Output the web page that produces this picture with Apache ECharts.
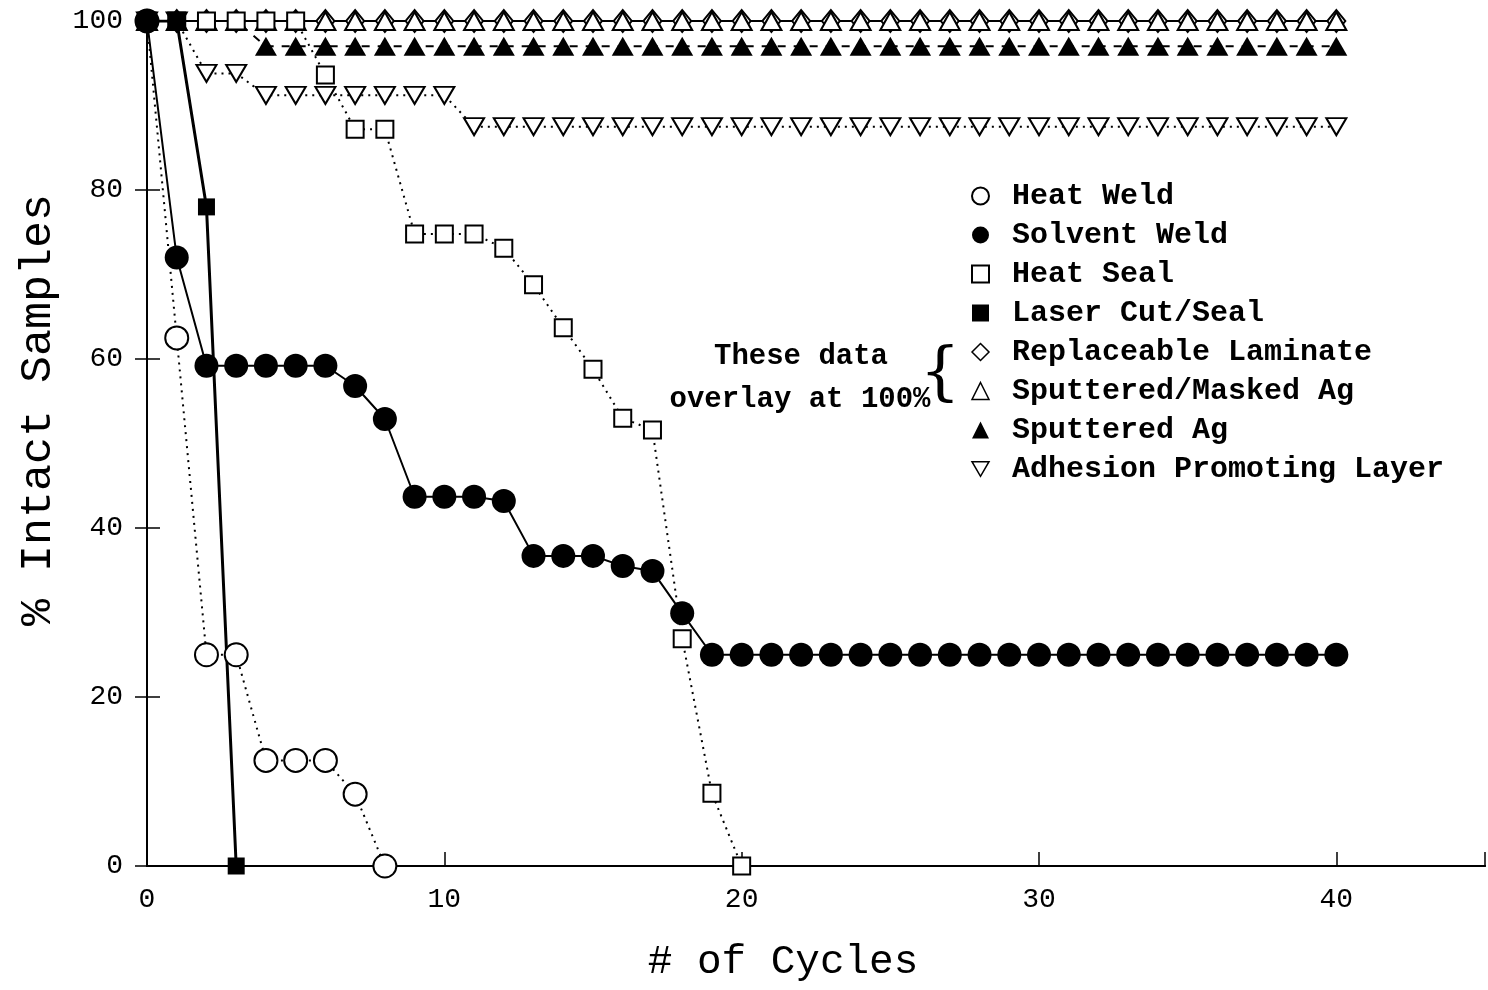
<!DOCTYPE html>
<html>
<head>
<meta charset="utf-8">
<script src="https://cdn.jsdelivr.net/npm/echarts@6/dist/echarts.min.js"></script>
<style>html,body{margin:0;padding:0;background:#fff}#c{width:1488px;height:990px}</style>
</head>
<body>
<div id="c"></div>
<script>
// x values (# of cycles)
const cycles = [0,1,2,3,4,5,6,7,8,9,10,11,12,13,14,15,16,17,18,19,20,21,22,23,24,25,26,27,28,29,30,31,32,33,34,35,36,37,38,39,40];
const xTicks = [0,10,20,30,40];
const yTicks = [0,20,40,60,80,100];

const heatWeld = [100,62.5,25,25,12.5,12.5,12.5,8.5,0];
const solventWeld = [100,72,59.2,59.2,59.2,59.2,59.2,56.8,52.9,43.7,43.7,43.7,43.2,36.7,36.7,36.7,35.5,34.9,29.9,25,25,25,25,25,25,25,25,25,25,25,25,25,25,25,25,25,25,25,25,25,25];
const heatSeal = [100,100,100,100,100,100,93.6,87.2,87.2,74.8,74.8,74.8,73.1,68.8,63.7,58.8,53.0,51.6,26.9,8.6,0];
const laserCut = [100,100,78,0];
const replaceable = [100,100,100,100,100,100,100,100,100,100,100,100,100,100,100,100,100,100,100,100,100,100,100,100,100,100,100,100,100,100,100,100,100,100,100,100,100,100,100,100,100];
const sputteredMasked = [100,100,100,100,100,100,100,100,100,100,100,100,100,100,100,100,100,100,100,100,100,100,100,100,100,100,100,100,100,100,100,100,100,100,100,100,100,100,100,100,100];
const sputteredAg = [100,100,100,100,97,97,97,97,97,97,97,97,97,97,97,97,97,97,97,97,97,97,97,97,97,97,97,97,97,97,97,97,97,97,97,97,97,97,97,97,97];
const adhesion = [100,100,93.8,93.8,91.2,91.2,91.2,91.2,91.2,91.2,91.2,87.5,87.5,87.5,87.5,87.5,87.5,87.5,87.5,87.5,87.5,87.5,87.5,87.5,87.5,87.5,87.5,87.5,87.5,87.5,87.5,87.5,87.5,87.5,87.5,87.5,87.5,87.5,87.5,87.5,87.5];

const FONT = 'Liberation Mono';
const downTri = 'path://M0,0L20,0L10,17.3Z';
const pts = arr => arr.map((v,i)=>[cycles[i], v]);
const openStyle = {color:'#fff', borderColor:'#000', borderWidth:2};
const fillStyle = {color:'#000', borderColor:'#000', borderWidth:0};

const series = [
  {name:'Replaceable Laminate', data:pts(replaceable), symbol:'diamond', symbolSize:[18,22], itemStyle:openStyle, lineStyle:{color:'#000',width:2,type:'solid'}},
  {name:'Sputtered/Masked Ag', data:pts(sputteredMasked), symbol:'triangle', symbolSize:[20,18], itemStyle:openStyle, lineStyle:{color:'#000',width:2,type:'solid'}},
  {name:'Sputtered Ag', data:pts(sputteredAg), symbol:'triangle', symbolSize:[22,19], itemStyle:fillStyle, lineStyle:{color:'#000',width:2,type:[8,8]}},
  {name:'Adhesion Promoting Layer', data:pts(adhesion), symbol:downTri, symbolSize:[20,17], itemStyle:openStyle, lineStyle:{color:'#000',width:2,type:[2,5]}},
  {name:'Heat Seal', data:pts(heatSeal), symbol:'rect', symbolSize:17, itemStyle:openStyle, lineStyle:{color:'#000',width:2,type:[2,5]}},
  {name:'Heat Weld', data:pts(heatWeld), symbol:'circle', symbolSize:23, itemStyle:openStyle, lineStyle:{color:'#000',width:2,type:[2,5]}},
  {name:'Solvent Weld', data:pts(solventWeld), symbol:'circle', symbolSize:24, itemStyle:fillStyle, lineStyle:{color:'#000',width:2,type:'solid'}},
  {name:'Laser Cut/Seal', data:pts(laserCut), symbol:'rect', symbolSize:17, itemStyle:fillStyle, lineStyle:{color:'#000',width:3,type:'solid'}}
].map(s=>Object.assign({type:'line', showAllSymbol:true, animation:false, xAxisIndex:0, yAxisIndex:0}, s));

const legendItems = [
  {name:'Heat Weld', icon:'circle', itemStyle:openStyle},
  {name:'Solvent Weld', icon:'circle', itemStyle:fillStyle},
  {name:'Heat Seal', icon:'rect', itemStyle:openStyle},
  {name:'Laser Cut/Seal', icon:'rect', itemStyle:fillStyle},
  {name:'Replaceable Laminate', icon:'diamond', itemStyle:Object.assign({},openStyle,{borderWidth:1.5})},
  {name:'Sputtered/Masked Ag', icon:'triangle', itemStyle:Object.assign({},openStyle,{borderWidth:1.5})},
  {name:'Sputtered Ag', icon:'triangle', itemStyle:fillStyle},
  {name:'Adhesion Promoting Layer', icon:downTri, itemStyle:Object.assign({},openStyle,{borderWidth:1.5})}
];

const chart = echarts.init(document.getElementById('c'), null, {renderer:'canvas'});
chart.setOption({
  backgroundColor:'#fff',
  animation:false,
  grid:{left:147, right:3, top:21, bottom:124, containLabel:false},
  xAxis:[
    {type:'value', min:0, max:45, interval:10, position:'bottom',
     axisLine:{show:true, lineStyle:{color:'#000', width:2}},
     axisTick:{show:true, inside:true, length:14, lineStyle:{color:'#000', width:1.5}},
     axisLabel:{fontFamily:FONT, fontSize:28, color:'#000', margin:20, formatter:v=>xTicks.includes(v)?String(v):''},
     splitLine:{show:false}},
    {type:'value', min:0, max:45, interval:10, position:'top',
     axisLine:{show:true, lineStyle:{color:'#000', width:2}},
     axisTick:{show:false}, axisLabel:{show:false}, splitLine:{show:false}}
  ],
  yAxis:[
    {type:'value', min:0, max:100, interval:20, position:'left',
     axisLine:{show:true, lineStyle:{color:'#000', width:2}},
     axisTick:{show:true, inside:true, length:13, lineStyle:{color:'#000', width:1.5}},
     axisLabel:{fontFamily:FONT, fontSize:28, color:'#000', margin:24, formatter:v=>yTicks.includes(v)?String(v):''},
     splitLine:{show:false}},
    {type:'value', min:0, max:100, interval:20, position:'right',
     axisLine:{show:true, lineStyle:{color:'#000', width:2}},
     axisTick:{show:true, inside:true, length:12, lineStyle:{color:'#000', width:1.5}},
     axisLabel:{show:false}, splitLine:{show:false}}
  ],
  legend:{
    orient:'vertical', left:966, top:176, itemWidth:17, itemHeight:17, itemGap:9,
    selectedMode:false,
    textStyle:{fontFamily:FONT, fontWeight:'bold', fontSize:30, color:'#000', padding:[0,0,0,18], lineHeight:30},
    data:legendItems
  },
  graphic:[
    {type:'text', x:38, y:410, rotation:Math.PI/2, style:{text:'% Intact Samples', font:'45px "Liberation Mono"', fill:'#000', align:'center', verticalAlign:'middle'}},
    {type:'text', x:783, y:962, style:{text:'# of Cycles', font:'41px "Liberation Mono"', fill:'#000', align:'center', verticalAlign:'middle'}},
    {type:'text', x:801, y:357, style:{text:'These data', font:'bold 29px "Liberation Mono"', fill:'#000', align:'center', verticalAlign:'middle'}},
    {type:'text', x:800, y:400, style:{text:'overlay at 100%', font:'bold 29px "Liberation Mono"', fill:'#000', align:'center', verticalAlign:'middle'}},
    {type:'text', x:940, y:376, style:{text:'{', font:'64px "DejaVu Serif"', fill:'#000', align:'center', verticalAlign:'middle'}}
  ],
  series:series
});
</script>
</body>
</html>
